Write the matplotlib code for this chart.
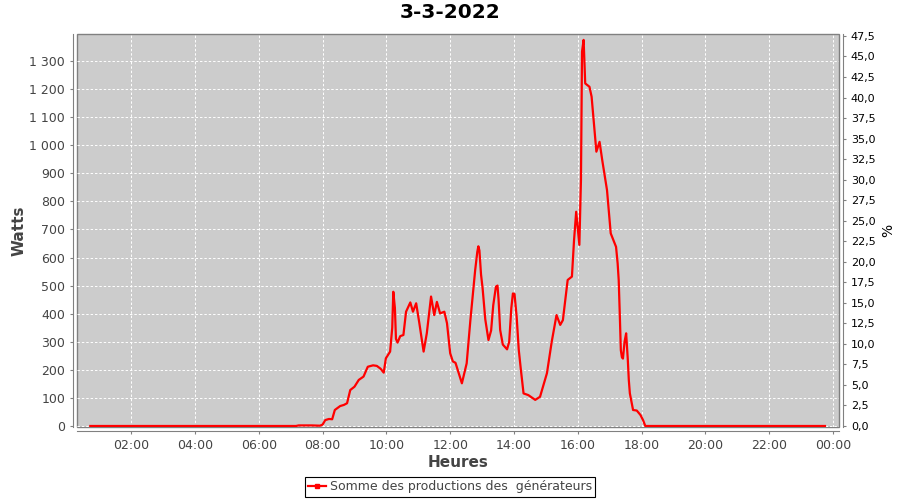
import matplotlib
matplotlib.use("Agg")
import matplotlib.pyplot as plt
from matplotlib.lines import Line2D
from matplotlib.ticker import FixedLocator, FuncFormatter, MultipleLocator

# données (heure, watts)
heures = [
    "00:43", "03:00", "05:00", "07:10", "07:15", "07:40", "07:55", "08:00",
    "08:05", "08:12", "08:18", "08:23", "08:33", "08:40", "08:46", "08:52",
    "09:00", "09:08", "09:17", "09:25", "09:35", "09:42", "09:49", "09:55",
    "09:59", "10:07", "10:11", "10:13", "10:16", "10:18", "10:21", "10:26",
    "10:32", "10:37", "10:45", "10:50", "10:56", "11:02", "11:10", "11:16",
    "11:24", "11:30", "11:35", "11:41", "11:49", "11:54", "12:00", "12:05",
    "12:10", "12:22", "12:31", "12:38", "12:47", "12:51", "12:53", "12:55",
    "12:58", "13:01", "13:06", "13:12", "13:17", "13:21", "13:26", "13:29",
    "13:31", "13:34", "13:39", "13:47", "13:51", "13:55", "13:58", "14:01",
    "14:05", "14:09", "14:13", "14:18", "14:27", "14:40", "14:49", "15:02",
    "15:11", "15:20", "15:27", "15:32", "15:41", "15:49", "15:53", "15:57",
    "16:03", "16:06", "16:08", "16:11", "16:14", "16:22", "16:26", "16:35",
    "16:41", "16:46", "16:55", "17:02", "17:12", "17:15", "17:17", "17:19",
    "17:21", "17:23", "17:25", "17:28", "17:31", "17:34", "17:36", "17:38",
    "17:44", "17:51", "17:58", "18:03", "18:07", "20:00", "23:45",
]
watts = [
    0, 0, 0, 0, 2, 2, 1, 5,
    21, 25, 24, 57, 71, 75, 81, 128,
    140, 164, 176, 211, 216, 214, 204, 190,
    241, 265, 350, 478, 420, 310, 297, 320,
    324, 407, 440, 407, 437, 366, 265, 330,
    461, 395, 442, 401, 407, 366, 259, 230,
    225, 152, 223, 377, 555, 620, 640, 625,
    540, 490, 380, 306, 340, 430, 496, 500,
    450, 342, 290, 273, 300, 420, 472, 470,
    390, 271, 200, 116, 110, 93, 104, 188,
    300, 395, 360, 377, 520, 532, 662, 763,
    645, 876, 1333, 1375, 1220, 1208, 1173, 977,
    1012, 947, 840, 686, 638, 579, 520, 400,
    270, 245, 240, 300, 330, 240, 164, 116,
    57, 55, 39, 20, 0, 0, 0,
]
ticks_heures = [2, 4, 6, 8, 10, 12, 14, 16, 18, 20, 22, 24]
legende = "Somme des productions des  générateurs"

x = [int(t[:2]) + int(t[3:]) / 60 for t in heures]

gris = "#808080"
texte = "#444444"

fig = plt.figure(figsize=(9, 5), dpi=100)
ax = fig.add_axes([77 / 900, 1 - 427 / 500, 762 / 900, 393 / 500])
ax.set_facecolor("#cccccc")
ax.patch.set_edgecolor(gris)
ax.patch.set_linewidth(1)

ax.plot(x, watts, color="red", lw=1.6, zorder=3)

ax.set_xlim(0.30, 24.19)
ax.set_ylim(-3.6, 1396)
ax.xaxis.set_major_locator(FixedLocator(ticks_heures))
ax.xaxis.set_major_formatter(FuncFormatter(lambda v, p: f"{int(v) % 24:02d}:00"))
ax.yaxis.set_major_locator(MultipleLocator(100))
ax.yaxis.set_major_formatter(FuncFormatter(lambda v, p: f"{int(round(v)):,}".replace(",", " ")))
ax.grid(True, color="white", ls=(0, (2.5, 2)), lw=0.7)

for cote in ["top", "right"]:
    ax.spines[cote].set_visible(False)
for cote in ["left", "bottom"]:
    ax.spines[cote].set_position(("outward", 3))
    ax.spines[cote].set_color(gris)
ax.tick_params(colors=gris, labelcolor=texte, labelsize=9, length=2)

ax.set_ylabel("Watts", fontsize=11, fontweight="bold", color=texte)
ax.yaxis.set_label_coords(-0.066, 0.5)
ax.set_xlabel("Heures", fontsize=11, fontweight="bold", color=texte)
ax.xaxis.set_label_coords(0.5, -0.07)

# axe de droite en pourcentage
ax2 = ax.twinx()
ax2.set_ylim(-0.12, 47.74)
ax2.yaxis.set_major_locator(MultipleLocator(2.5))
ax2.yaxis.set_major_formatter(FuncFormatter(lambda v, p: f"{v:.1f}".replace(".", ",")))
for cote in ["top", "left", "bottom"]:
    ax2.spines[cote].set_visible(False)
ax2.spines["right"].set_position(("outward", 3))
ax2.spines["right"].set_color(gris)
ax2.tick_params(colors=gris, labelcolor="black", labelsize=8, length=2)
ax2.set_ylabel("%", fontsize=10, color="black")
ax2.yaxis.set_label_coords(1.056, 0.5)

fig.text(0.5, 1 - 13 / 500, "3-3-2022", ha="center", va="center",
         fontsize=14.5, fontweight="bold")

poignee = Line2D([], [], color="red", lw=1.6, marker="s", markersize=2.5)
leg = fig.legend([poignee], [legende], loc="lower center", bbox_to_anchor=(0.5, 0.002),
                 fontsize=9, frameon=True, fancybox=False, edgecolor="black",
                 framealpha=1, borderpad=0.25, handlelength=1.4, handletextpad=0.3,
                 borderaxespad=0.2)
leg.get_frame().set_linewidth(0.8)
for t in leg.get_texts():
    t.set_color(texte)

fig.savefig("out.png", dpi=100)
